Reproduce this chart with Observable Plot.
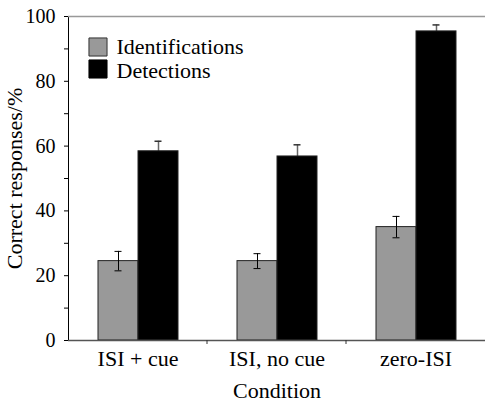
<!DOCTYPE html>
<html>
<head>
<meta charset="utf-8">
<script src="https://cdn.jsdelivr.net/npm/d3@7"></script>
<script src="https://cdn.jsdelivr.net/npm/@observablehq/plot@0.6"></script>
<style>
  html, body { margin: 0; padding: 0; background: #fff; }
</style>
</head>
<body>
<div id="chart"></div>
<script>
const conditions = ["ISI + cue", "ISI, no cue", "zero-ISI"];
const series = ["Identifications", "Detections"];
const identifications = [24.5, 24.5, 35.0];
const identErr = [3.0, 2.3, 3.3];
const detections = [58.4, 56.8, 95.4];
const detectErr = [3.1, 3.6, 2.0];
const yTicks = [0, 10, 20, 30, 40, 50, 60, 70, 80, 90, 100];

const identRows = conditions.map((c, i) => ({condition: c, series: series[0], value: identifications[i], err: identErr[i]}));
const detRows = conditions.map((c, i) => ({condition: c, series: series[1], value: detections[i], err: detectErr[i]}));
const rows = identRows.concat(detRows);

const FONT = "Liberation Serif, Times New Roman, serif";
const firstFacet = () => conditions[0];

const chart = Plot.plot({
  width: 485,
  height: 401,
  marginLeft: 68,
  marginRight: 0,
  marginTop: 16,
  marginBottom: 61,
  style: {background: "#fff", fontFamily: FONT, fontSize: "22px"},
  fx: {domain: conditions, padding: 0, axis: "bottom", label: "Condition", labelAnchor: "center", labelOffset: 57, tickSize: 0, tickPadding: 10},
  x: {domain: series, paddingInner: 0, paddingOuter: 0.7, axis: null},
  y: {domain: [0, 100], ticks: yTicks, tickFormat: d => d % 20 ? "" : d, tickSize: 4, tickPadding: 9, line: true, label: "Correct responses/%", labelAnchor: "center", labelOffset: 62, labelArrow: "none"},
  color: {domain: series, range: ["#999999", "#000000"]},
  marks: [
    Plot.ruleY([100], {stroke: "#999", strokeWidth: 1.5}),
    Plot.ruleX(detRows, {fx: "condition", x: "series", y1: d => d.value - d.err, y2: d => d.value + d.err, stroke: "#666", strokeWidth: 1.5}),
    Plot.tickY(detRows, {fx: "condition", x: "series", y: d => d.value + d.err, stroke: "#333", strokeWidth: 1.5, insetLeft: 16.5, insetRight: 16.5}),
    Plot.barY(rows, {fx: "condition", x: "series", y: "value", fill: "series", stroke: "#222", strokeWidth: 1}),
    Plot.ruleX(identRows, {fx: "condition", x: "series", y1: d => d.value - d.err, y2: d => d.value + d.err, stroke: "#000", strokeWidth: 1}),
    Plot.tickY(identRows, {fx: "condition", x: "series", y: d => d.value + d.err, stroke: "#000", strokeWidth: 1, insetLeft: 16.5, insetRight: 16.5}),
    Plot.tickY(identRows, {fx: "condition", x: "series", y: d => d.value - d.err, stroke: "#000", strokeWidth: 1, insetLeft: 16.5, insetRight: 16.5}),
    Plot.ruleY([0], {stroke: "#555", strokeWidth: 1.5}),
    Plot.dot([series[0]], {fx: firstFacet, frameAnchor: "top-left", dx: 29.5, dy: 30.5, symbol: "square", r: 10.2, fill: "#999", stroke: "#333", strokeWidth: 1}),
    Plot.dot([series[1]], {fx: firstFacet, frameAnchor: "top-left", dx: 29.5, dy: 52.5, symbol: "square", r: 10.2, fill: "#000", stroke: "#000", strokeWidth: 1}),
    Plot.text([series[0]], {fx: firstFacet, frameAnchor: "top-left", dx: 48, dy: 30, text: d => d, textAnchor: "start", lineAnchor: "middle", ariaLabel: "legend", fontFamily: FONT, fontSize: 20}),
    Plot.text([series[1]], {fx: firstFacet, frameAnchor: "top-left", dx: 48, dy: 54, text: d => d, textAnchor: "start", lineAnchor: "middle", ariaLabel: "legend", fontFamily: FONT, fontSize: 20})
  ]
});

document.getElementById("chart").appendChild(chart);

// Serif font everywhere; per-role sizes; strip any label arrow
const svgSel = d3.select(chart);
svgSel.selectAll("g").attr("font-family", null).attr("font-size", null);
svgSel.selectAll("text, tspan")
  .attr("font-family", FONT).attr("font-size", 22)
  .style("font-family", FONT, "important").style("font-size", "22px", "important")
  .style("fill", "#000");
svgSel.selectAll('g[aria-label="y-axis tick label"] text')
  .attr("font-size", 20).style("font-size", "20px", "important");
svgSel.selectAll('g[aria-label="legend"] text')
  .attr("font-size", 20).style("font-size", "20px", "important");
svgSel.selectAll("text").each(function() {
  const t = this.textContent;
  if (/[→↑←↓]/.test(t)) this.textContent = t.replace(/\s*[→↑←↓]\s*/g, "");
});

// Boundary ticks between condition groups, from Plot's own fx scale
const fxs = chart.scale("fx");
const yScale = chart.scale("y");
const band = d3.scaleBand().domain(fxs.domain).range(fxs.range)
  .paddingInner(fxs.paddingInner || 0).paddingOuter(fxs.paddingOuter || 0).align(fxs.align ?? 0.5);
const y0 = yScale.apply(0);
svgSel.append("g")
  .selectAll("line")
  .data(fxs.domain.slice(1))
  .join("line")
  .attr("x1", d => band(d)).attr("x2", d => band(d))
  .attr("y1", y0).attr("y2", y0 + 4)
  .attr("stroke", "#333");
</script>
</body>
</html>
